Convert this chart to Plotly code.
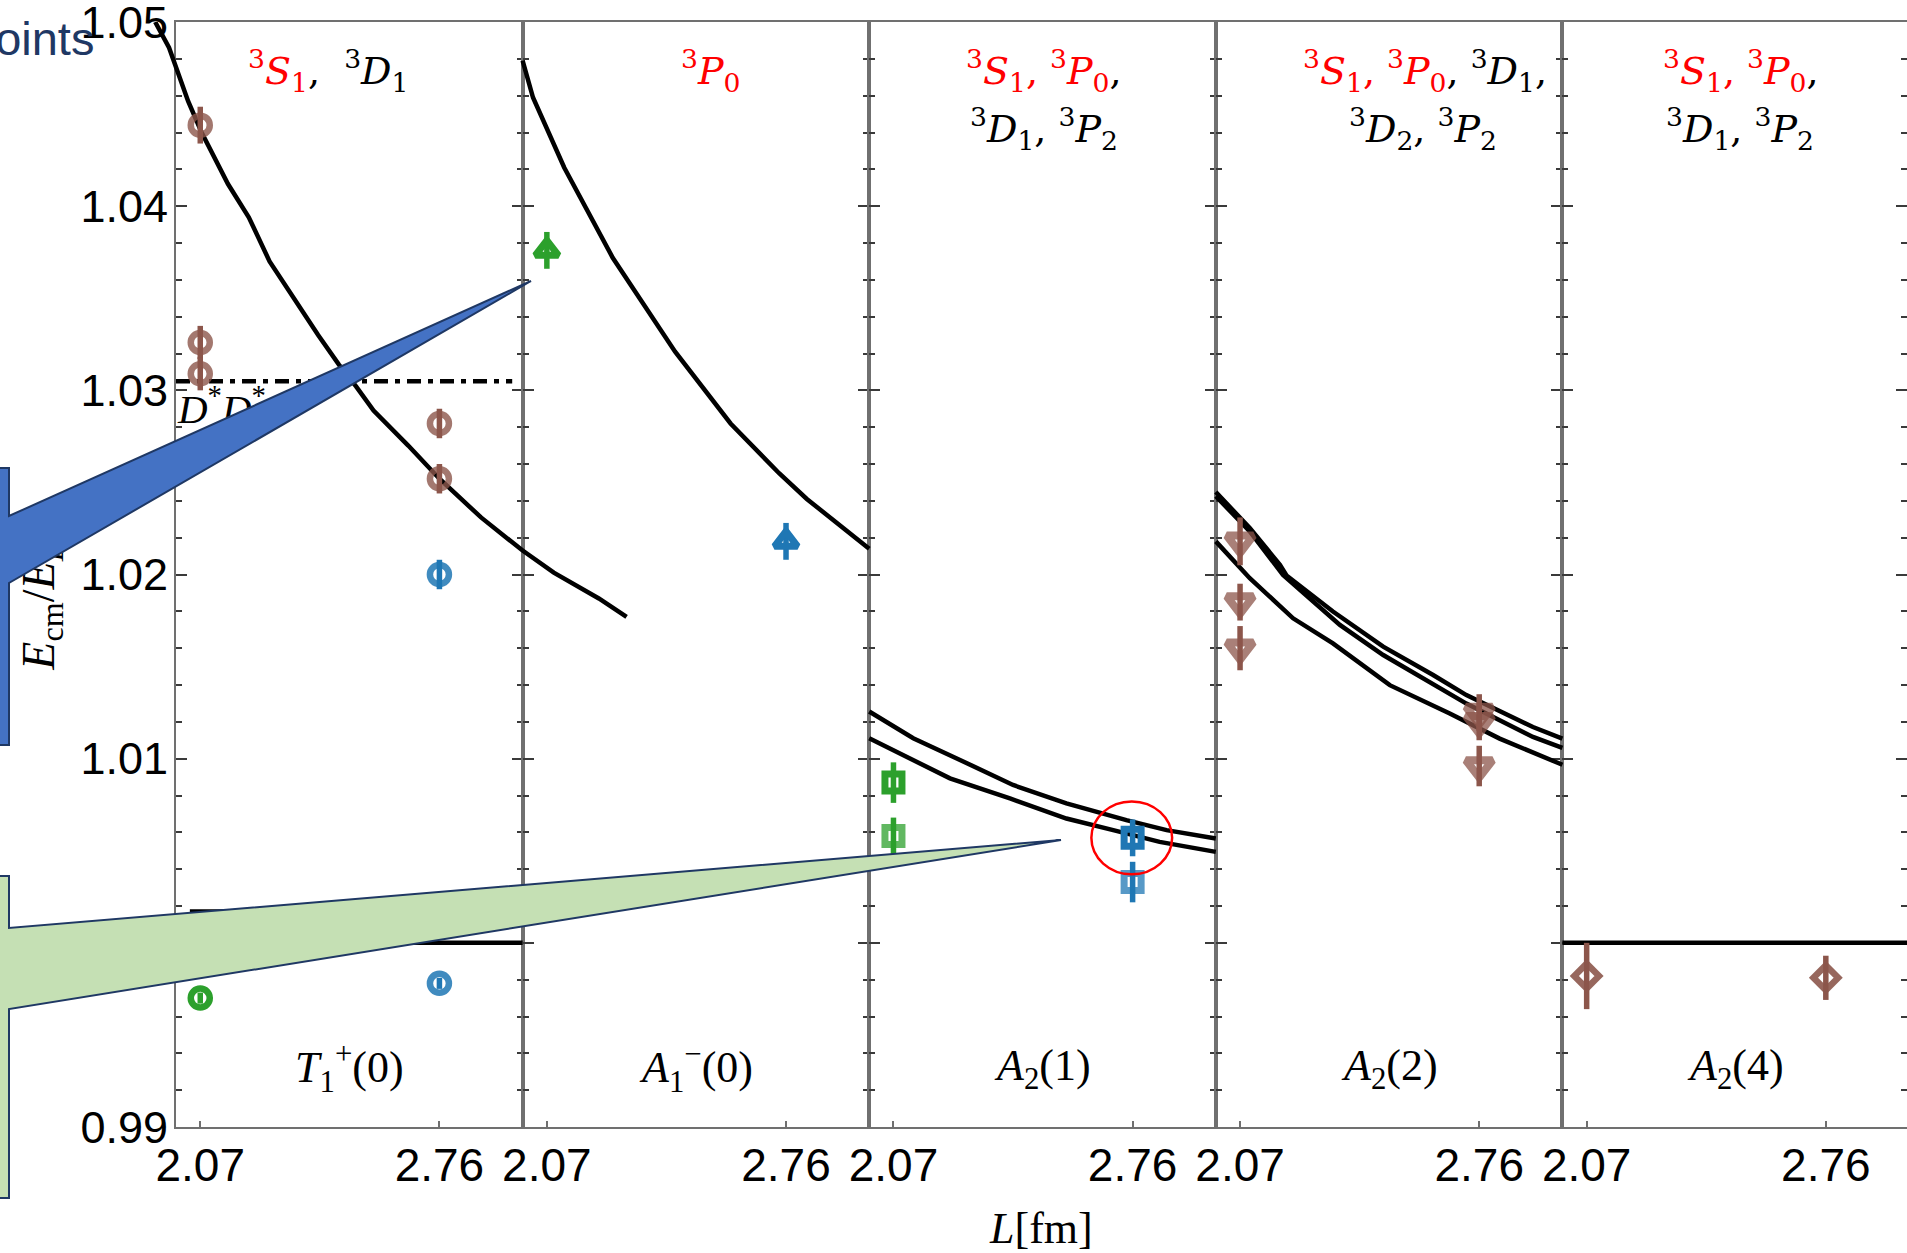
import plotly.graph_objects as go

# ---------------------------------------------------------------- data
L_TICKS = [2.07, 2.76]
L_TICK_TEXT = ["2.07", "2.76"]
E_TICKS = [0.99, 1.00, 1.01, 1.02, 1.03, 1.04, 1.05]
E_TICK_TEXT = ["0.99", "1.00", "1.01", "1.02", "1.03", "1.04", "1.05"]

IRREP_LABELS = [
    "<i>T</i><sub>1</sub><sup>+</sup>(0)",
    "<i>A</i><sub>1</sub><sup>\u2212</sup>(0)",
    "<i>A</i><sub>2</sub>(1)",
    "<i>A</i><sub>2</sub>(2)",
    "<i>A</i><sub>2</sub>(4)",
]

# non-interacting D D* levels (one list pair per curve)
t1p_free_L = [1.94, 1.98, 2.035, 2.074, 2.15, 2.21, 2.27, 2.34, 2.41, 2.47,
              2.52, 2.57, 2.67, 2.76, 2.88, 3.0, 3.09, 3.22, 3.30]
t1p_free_E = [1.0500, 1.0486, 1.0457, 1.0440, 1.0412, 1.0394, 1.0370, 1.0350,
              1.0330, 1.0314, 1.0302, 1.0289, 1.0270, 1.0252, 1.0231, 1.0213,
              1.0201, 1.0187, 1.0177]
a1m_free_L = [2.0, 2.03, 2.12, 2.26, 2.44, 2.60, 2.74, 2.82, 3.0]
a1m_free_E = [1.0479, 1.0459, 1.0421, 1.0372, 1.0321, 1.0282, 1.0255, 1.0241, 1.0214]
a21_free_up_L = [2.0, 2.127, 2.262, 2.415, 2.569, 2.742, 2.858, 3.0]
a21_free_up_E = [1.01256, 1.01111, 1.00993, 1.00857, 1.00757, 1.00666, 1.00612, 1.00566]
a21_free_lo_L = [2.0, 2.233, 2.406, 2.569, 2.704, 2.838, 3.0]
a21_free_lo_E = [1.01111, 1.00893, 1.00784, 1.00675, 1.00612, 1.00548, 1.00494]
a22_free_1_L = [2.0, 2.098, 2.185, 2.204, 2.338, 2.483, 2.627, 2.723, 2.915, 3.0]
a22_free_1_E = [1.02448, 1.02252, 1.02053, 1.01995, 1.01799, 1.01608, 1.01454,
                1.01345, 1.01172, 1.01109]
a22_free_2_L = [2.0, 2.098, 2.194, 2.358, 2.483, 2.723, 2.915, 3.0]
a22_free_2_E = [1.02425, 1.02234, 1.01998, 1.01726, 1.01563, 1.01299, 1.01118, 1.01058]
a22_free_3_L = [2.0, 2.098, 2.223, 2.338, 2.502, 2.675, 2.819, 3.0]
a22_free_3_E = [1.0218, 1.0198, 1.01762, 1.01626, 1.01399, 1.01245, 1.01109, 1.00967]

# thresholds
E_DDSTAR = 1.0
E_DDSTAR_2 = 1.0017
E_DSTAR_DSTAR = 1.0305

# lattice energy levels: L [fm], E_cm / threshold, error
t1p_brown_L = [2.07, 2.07, 2.07, 2.76, 2.76]
t1p_brown_E = [1.0444, 1.0326, 1.0309, 1.0282, 1.0252]
t1p_brown_err = [0.0010, 0.0009, 0.0009, 0.0008, 0.0008]
t1p_blue_L = [2.76, 2.76]
t1p_blue_E = [1.0200, 0.9978]
t1p_blue_err = [0.0008, 0.0003]
t1p_green_L = [2.07]
t1p_green_E = [0.9970]
t1p_green_err = [0.0003]

a1m_green_L = [2.07]
a1m_green_E = [1.0376]
a1m_green_err = [0.0010]
a1m_blue_L = [2.76]
a1m_blue_E = [1.0218]
a1m_blue_err = [0.0010]

a21_green_L = [2.07]
a21_green_E = [1.0087]
a21_green_err = [0.0011]
a21_green_b_L = [2.07]
a21_green_b_E = [1.0058]
a21_green_b_err = [0.0010]
a21_blue_L = [2.76]
a21_blue_E = [1.0057]
a21_blue_err = [0.0010]
a21_blue_b_L = [2.76]
a21_blue_b_E = [1.0033]
a21_blue_b_err = [0.0011]

a22_brown_L = [2.07, 2.07, 2.07, 2.76, 2.76, 2.76]
a22_brown_E = [1.0218, 1.0185, 1.0160, 1.0125, 1.0120, 1.0096]
a22_brown_err = [0.0013, 0.0010, 0.0012, 0.0010, 0.0010, 0.0011]

a24_brown_L = [2.07, 2.76]
a24_brown_E = [0.9982, 0.9981]
a24_brown_err = [0.0018, 0.0012]

# ---------------------------------------------------------------- geometry
W, H = 1907, 1253
LEFT, TOP, BOTTOM = 176.0, 22.0, 1127.0
PANEL = 346.6          # pixels per panel, one panel spans 1 fm of L
L0 = 2.0               # L at the left frame of every panel
NP = 5


def fx(px):
    return px / W


def fy(py):
    return 1.0 - py / H


Y_DOMAIN = [fy(BOTTOM), fy(TOP)]
Y_RANGE = [0.99 - 1e-7, 1.05 + 1e-7]

BROWN = "#8c564b"
BLUE = "#1f77b4"
GREEN = "#2ca02c"
FRAME = "#707070"
TICK = "#3a3a3a"
SANS = "Liberation Sans, Arial, sans-serif"
SERIF = "Liberation Serif, Times New Roman, serif"
LABEL_SERIF = "DejaVu Serif, serif"

fig = go.Figure()
layout = dict(
    width=W, height=H, autosize=False,
    margin=dict(l=0, r=0, t=0, b=0, pad=0, autoexpand=False),
    paper_bgcolor="white", plot_bgcolor="rgba(0,0,0,0)",
    showlegend=False,
)

# panel frames with ticks
for i in range(NP):
    x0 = LEFT + i * PANEL
    x1 = min(x0 + PANEL, W)
    xs = "" if i == 0 else str(i + 1)
    layout["xaxis" + xs] = dict(
        domain=[fx(x0), fx(x1)], range=[L0, L0 + (x1 - x0) / PANEL],
        anchor="y" + xs, showline=True, linecolor=FRAME, linewidth=2,
        mirror=True, ticks="inside", ticklen=6, tickwidth=1.5, tickcolor=FRAME,
        tickvals=L_TICKS, ticktext=L_TICK_TEXT, showgrid=False, zeroline=False,
        tickfont=dict(family=SANS, size=46, color="black"),
        ticklabelstandoff=-3, automargin=False, ticklabeloverflow="allow",
    )
    layout["yaxis" + xs] = dict(
        domain=Y_DOMAIN, range=Y_RANGE, anchor="x" + xs,
        showline=True, linecolor=FRAME, linewidth=2, mirror="ticks",
        ticks="inside", ticklen=11, tickwidth=2, tickcolor=TICK,
        tickvals=E_TICKS, ticktext=E_TICK_TEXT, showticklabels=(i == 0),
        tickfont=dict(family=SANS, size=45, color="black"),
        minor=dict(ticks="inside", dtick=0.002, tick0=0.99, ticklen=6,
                   tickwidth=1.5, tickcolor=TICK),
        showgrid=False, zeroline=False, ticklabelstandoff=-3, automargin=False,
        ticklabeloverflow="allow",
    )
    fig.add_trace(go.Scatter(x=[None], y=[None], xaxis="x" + xs, yaxis="y" + xs,
                             hoverinfo="skip"))

# full-width companion axes so curves may run past their own frame
OV = []
for i in range(NP):
    x0 = LEFT + i * PANEL
    name = str(6 + i)
    layout["xaxis" + name] = dict(
        domain=[0, 1], range=[L0 - x0 / PANEL, L0 + (W - x0) / PANEL],
        anchor="y6", visible=False, showgrid=False, zeroline=False,
        automargin=False,
    )
    OV.append("x" + name)
layout["yaxis6"] = dict(domain=Y_DOMAIN, range=Y_RANGE, anchor="x6",
                        visible=False, showgrid=False, zeroline=False,
                        automargin=False)

# rotated energy-axis title carried as a tick label of a free axis
title_value = 1.0191
layout["yaxis7"] = dict(
    overlaying="y", anchor="free", position=fx(63), side="left",
    range=Y_RANGE, tickvals=[title_value],
    ticktext=["<i>E</i><sub>cm</sub>/<i>E</i><sub><i>DD\u0304</i>*</sub>"],
    tickangle=-90, ticks="", showline=False, showgrid=False, zeroline=False,
    tickfont=dict(family=SERIF, size=46, color="black"), ticklabelstandoff=0,
    automargin=False, ticklabeloverflow="allow",
)
fig.add_trace(go.Scatter(x=[None], y=[None], xaxis="x", yaxis="y7", hoverinfo="skip"))


def curve(p, L, E, dash=None):
    fig.add_trace(go.Scatter(
        x=L, y=E, xaxis=OV[p], yaxis="y6", mode="lines",
        line=dict(color="black", width=4.5, dash=dash), hoverinfo="skip"))


def levels(p, L, E, err, symbol, color, size, lw, alpha):
    fig.add_trace(go.Scatter(
        x=L, y=E, xaxis=OV[p], yaxis="y6", mode="markers",
        marker=dict(symbol=symbol + "-open", size=size, color=color,
                    opacity=alpha, line=dict(width=lw, color=color)),
        error_y=dict(type="data", array=err, visible=True, color=color,
                     thickness=5.5, width=0),
        hoverinfo="skip"))


# panel 1: T1+(0)
curve(0, t1p_free_L, t1p_free_E)
curve(0, [L0, 2.97], [E_DSTAR_DSTAR] * 2, dash="14px,7px,5px,7px")
curve(0, [2.04, 3.0], [E_DDSTAR_2] * 2)
curve(0, [L0, 3.0], [E_DDSTAR] * 2)
fig.add_trace(go.Scatter(
    x=[L0 + 2 / PANEL], y=[1.0288], xaxis=OV[0], yaxis="y6", mode="text",
    text=["<i>D</i><sup>*</sup><i>D</i><sup>*</sup>"], textposition="middle right",
    textfont=dict(family=SERIF, size=41, color="black"), hoverinfo="skip"))
levels(0, t1p_brown_L, t1p_brown_E, t1p_brown_err, "circle", BROWN, 19, 6.5, 0.8)
levels(0, t1p_blue_L, t1p_blue_E, t1p_blue_err, "circle", BLUE, 19, 6.5, 0.85)
levels(0, t1p_green_L, t1p_green_E, t1p_green_err, "circle", GREEN, 19, 6.5, 1.0)

# panel 2: A1-(0)
curve(1, a1m_free_L, a1m_free_E)
levels(1, a1m_green_L, a1m_green_E, a1m_green_err, "triangle-up", GREEN, 20, 7, 1.0)
levels(1, a1m_blue_L, a1m_blue_E, a1m_blue_err, "triangle-up", BLUE, 20, 7, 1.0)

# panel 3: A2(1)
curve(2, a21_free_up_L, a21_free_up_E)
curve(2, a21_free_lo_L, a21_free_lo_E)
levels(2, a21_green_L, a21_green_E, a21_green_err, "square", GREEN, 17, 7, 1.0)
levels(2, a21_green_b_L, a21_green_b_E, a21_green_b_err, "square", GREEN, 17, 7, 0.75)
levels(2, a21_blue_L, a21_blue_E, a21_blue_err, "square", BLUE, 17, 7, 1.0)
levels(2, a21_blue_b_L, a21_blue_b_E, a21_blue_b_err, "square", BLUE, 17, 7, 0.75)

# panel 4: A2(2)
curve(3, a22_free_1_L, a22_free_1_E)
curve(3, a22_free_2_L, a22_free_2_E)
curve(3, a22_free_3_L, a22_free_3_E)
levels(3, a22_brown_L, a22_brown_E, a22_brown_err, "triangle-down", BROWN, 23, 8, 0.75)

# panel 5: A2(4)
curve(4, [L0, 3.0], [E_DDSTAR] * 2)
levels(4, a24_brown_L, a24_brown_E, a24_brown_err, "diamond", BROWN, 19, 6.5, 0.9)

# ---------------------------------------------------------------- text
RED = "#ff0000"


def red(s):
    return '<span style="color:%s">%s</span>' % (RED, s)


def wave(S, J):
    return "<sup>3</sup><i>%s</i><sub>%s</sub>" % (S, J)


S1, P0, D1, D2, P2 = wave("S", 1), wave("P", 0), wave("D", 1), wave("D", 2), wave("P", 2)
SP = "&nbsp;"
channel_lines = [
    (328, 71, red(S1) + "," + SP * 2 + D1),
    (710, 71, red(P0)),
    (1044, 71, red(S1 + ",") + SP + red(P0) + ","),
    (1044, 128, D1 + "," + SP + P2),
    (1425, 71, red(S1 + ",") + SP + red(P0) + "," + SP + D1 + ","),
    (1423, 128, D2 + "," + SP + P2),
    (1741, 71, red(S1 + ",") + SP + red(P0) + ","),
    (1740, 128, D1 + "," + SP + P2),
]
annotations = []
for cx, cy, txt in channel_lines:
    annotations.append(dict(
        x=fx(cx), y=fy(cy), xref="paper", yref="paper", text=txt,
        showarrow=False, xanchor="center", yanchor="middle",
        font=dict(family=LABEL_SERIF, size=38, color="black")))

for i, lab in enumerate(IRREP_LABELS):
    annotations.append(dict(
        x=fx(LEFT + (i + 0.5) * PANEL), y=fy(1068), xref="paper", yref="paper",
        text=lab, showarrow=False, xanchor="center", yanchor="middle",
        font=dict(family=SERIF, size=44, color="black")))

annotations.append(dict(
    x=fx(1041), y=fy(1228), xref="paper", yref="paper", text="<i>L</i>[fm]",
    showarrow=False, xanchor="center", yanchor="middle",
    font=dict(family=SERIF, size=44, color="black")))

annotations.append(dict(
    x=fx(96), y=fy(38), xref="paper", yref="paper", text="points",
    showarrow=False, xanchor="right", yanchor="middle",
    font=dict(family=SANS, size=47, color="#1f3864")))

# ---------------------------------------------------------------- callouts
def path(points):
    return "M " + " L ".join("%.5f,%.5f" % (fx(a), fy(b)) for a, b in points) + " Z"


blue_callout = [(-40, 468), (9, 468), (9, 516), (531, 281), (9, 583),
                (9, 745), (-40, 745)]
green_callout = [(-40, 876), (9, 876), (9, 928), (1061, 840), (9, 1009),
                 (9, 1198), (-40, 1198)]

hl_L, hl_E = a21_blue_L[0], a21_blue_E[0]
shapes = [
    dict(type="circle", xref="x3", yref="y3", x0=hl_L - 0.119, x1=hl_L + 0.114,
         y0=hl_E - 0.00198, y1=hl_E + 0.00198, line=dict(color=RED, width=2.5)),
    dict(type="path", xref="paper", yref="paper", path=path(blue_callout),
         fillcolor="#4472c4", line=dict(color="#1f3864", width=2), layer="above"),
    dict(type="path", xref="paper", yref="paper", path=path(green_callout),
         fillcolor="#c5e0b4", line=dict(color="#1f3864", width=2), layer="above"),
]

fig.update_layout(**layout)
fig.update_layout(annotations=annotations, shapes=shapes)
fig.write_html("out.html", config={"displayModeBar": False})
